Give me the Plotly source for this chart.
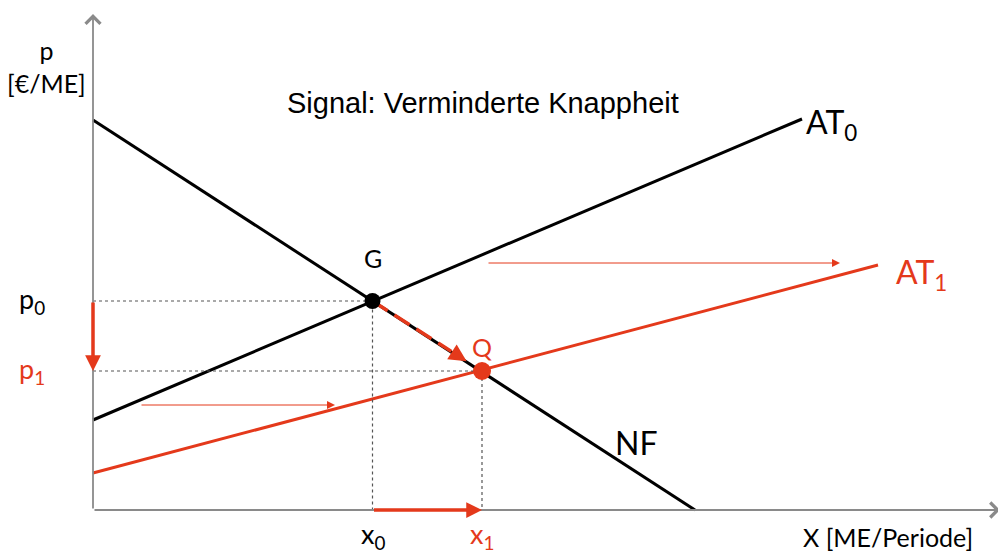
import plotly.graph_objects as go

# ---- data (abstract units: quantity X, price p) ----
nf_x = [0.0, 60.2]          # Nachfrage NF
nf_y = [39.0, 0.0]
at0_x = [0.0, 70.9]         # Angebot AT0
at0_y = [9.0, 39.1]
at1_x = [0.0, 78.5]         # Angebot AT1
at1_y = [3.7, 24.5]
G = (27.95, 20.9)           # Gleichgewicht alt
Q = (38.9, 13.9)            # Gleichgewicht neu
shift_low = ([4.7, 24.2], [10.5, 10.5])
shift_high = ([39.4, 74.7], [24.7, 24.7])

RED = "#E4391B"
GREY = "#8a8a8a"
FONT = "Lato"
TFONT = "Liberation Sans"

fig = go.Figure()

# curves
fig.add_trace(go.Scatter(x=nf_x, y=nf_y, mode="lines", line=dict(color="black", width=3), hoverinfo="skip"))
fig.add_trace(go.Scatter(x=at0_x, y=at0_y, mode="lines", line=dict(color="black", width=3), hoverinfo="skip"))
fig.add_trace(go.Scatter(x=at1_x, y=at1_y, mode="lines", line=dict(color=RED, width=3), hoverinfo="skip"))

# dotted guides
for (px, py) in (G, Q):
    fig.add_trace(go.Scatter(x=[0, px, px], y=[py, py, 0], mode="lines",
                             line=dict(color="#555", width=1.2, dash="dot"), hoverinfo="skip"))

# dashed red move G -> Q
f = 0.86
tip = (G[0] + f * (Q[0] - G[0]), G[1] + f * (Q[1] - G[1]))
tail = (G[0] + 0.72 * (Q[0] - G[0]), G[1] + 0.72 * (Q[1] - G[1]))
fig.add_trace(go.Scatter(x=[G[0], tail[0]], y=[G[1], tail[1]], mode="lines",
                         line=dict(color=RED, width=3.5, dash="18px,8px"), hoverinfo="skip"))

# points
fig.add_trace(go.Scatter(x=[G[0]], y=[G[1]], mode="markers", marker=dict(color="black", size=16), hoverinfo="skip"))
fig.add_trace(go.Scatter(x=[Q[0]], y=[Q[1]], mode="markers", marker=dict(color=RED, size=18), hoverinfo="skip"))

ann = []
def arrow(x0, y0, x1, y1, color, width, head=2, size=1.0):
    ann.append(dict(x=x1, y=y1, ax=x0, ay=y0, xref="x", yref="y", axref="x", ayref="y",
                    showarrow=True, arrowhead=head, arrowcolor=color, arrowwidth=width,
                    arrowsize=size, text=""))

# axes with open arrow heads
arrow(0, 0, 0, 49.6, GREY, 1.8, head=4, size=1.6)
arrow(0, 0, 90.7, 0, GREY, 1.8, head=4, size=1.6)

# red shift arrows
arrow(tail[0], tail[1], tip[0], tip[1], RED, 3.5, head=2, size=1.0)
arrow(0, G[1], 0, Q[1], RED, 3.5, head=2, size=0.9)
arrow(G[0], 0, Q[0], 0, RED, 3.5, head=2, size=0.9)
arrow(shift_low[0][0], shift_low[1][0], shift_low[0][1], shift_low[1][1], RED, 1, head=2, size=1.6)
arrow(shift_high[0][0], shift_high[1][0], shift_high[0][1], shift_high[1][1], RED, 1, head=2, size=1.6)

def label(x, y, text, size, color="black", xanchor="center", family=FONT):
    ann.append(dict(x=x, y=y, xref="x", yref="y", text=text, showarrow=False,
                    xanchor=xanchor, yanchor="middle",
                    font=dict(family=family, size=size, color=color)))

label(39.0, 40.7, "Signal: Verminderte Knappheit", 29, family=TFONT)
label(71.1, 38.6, "AT<sub>0</sub>", 32, xanchor="left")
label(80.1, 23.6, "AT<sub>1</sub>", 32, color=RED, xanchor="left")
label(G[0], 25.2, "G", 25)
label(Q[0], 16.3, "Q", 25, color=RED)
label(54.3, 6.8, "NF", 32)
label(-6.1, 21.0, "p<sub>0</sub>", 27)
label(-6.1, 14.0, "p<sub>1</sub>", 27, color=RED)
label(G[0], -2.5, "x<sub>0</sub>", 27)
label(Q[0], -2.5, "x<sub>1</sub>", 27, color=RED)
label(79.5, -2.7, "X [ME/Periode]", 25)
label(-4.7, 44.4, "p<br>[€/ME]", 25)

# The page body adds an 8px offset; ranges are set so that the visible
# window shows the axes origin where the reference has it.
fig.update_layout(
    width=1006, height=552,
    margin=dict(l=0, r=0, t=0, b=0),
    paper_bgcolor="white", plot_bgcolor="white",
    showlegend=False,
    annotations=ann,
    xaxis=dict(range=[-8.5, 92.1], visible=False, fixedrange=True),
    yaxis=dict(range=[-5.0, 50.2], visible=False, fixedrange=True),
)

fig.write_html("out.html")
